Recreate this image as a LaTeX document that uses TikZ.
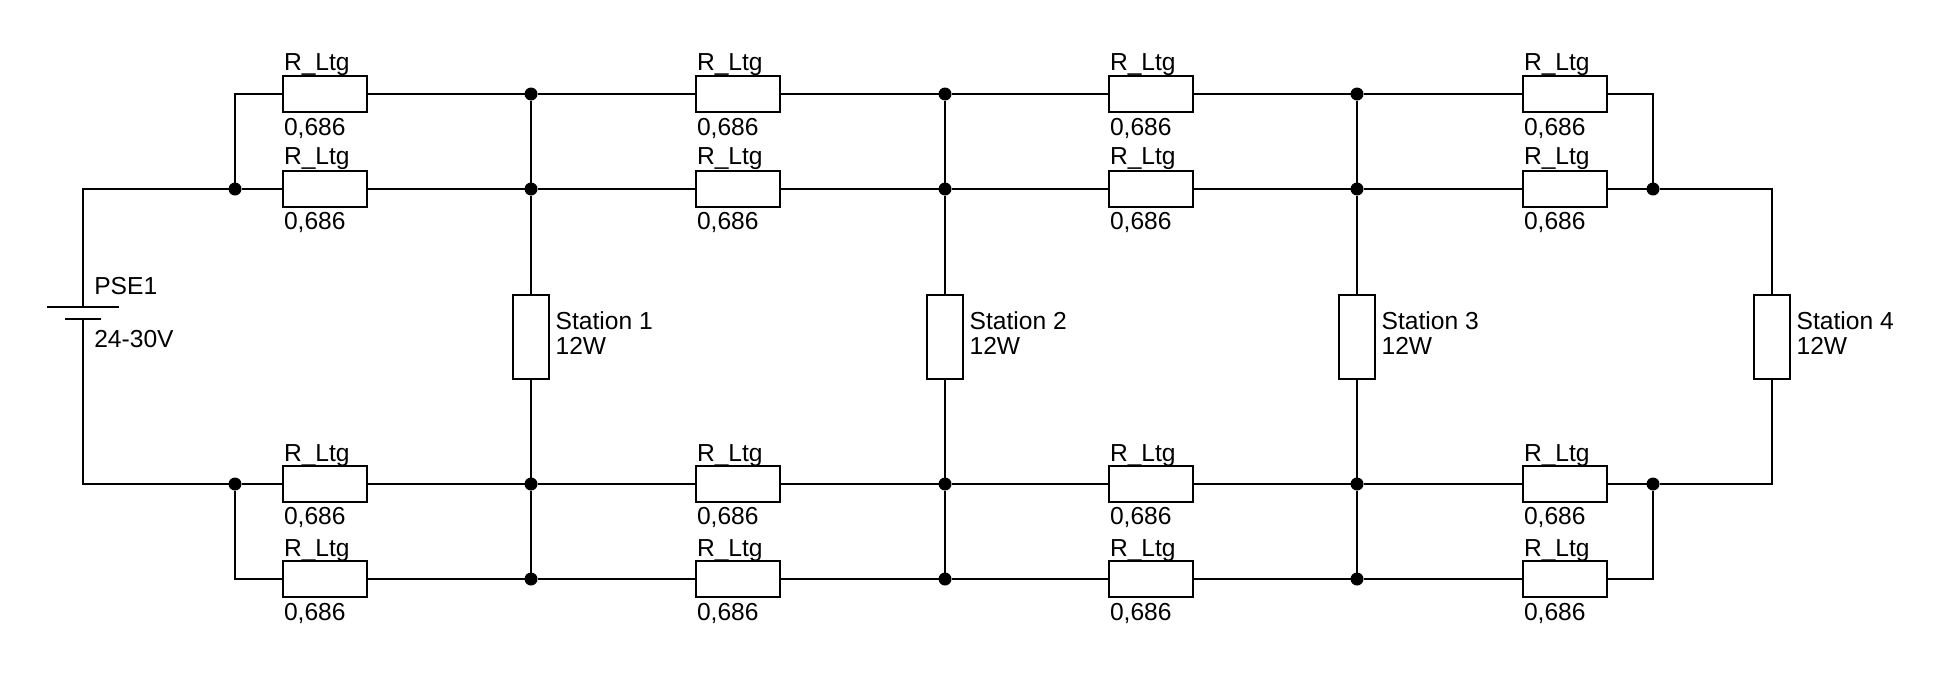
\documentclass[tikz,border=0pt]{standalone}
\usepackage{fontspec}
\setmainfont{Liberation Sans}
\begin{document}
\begin{tikzpicture}[x=1pt,y=-1pt,line width=2pt,
  res/.style={draw,rectangle,inner sep=0pt,outer sep=0pt,minimum width=84pt,minimum height=36pt},
  stn/.style={draw,rectangle,inner sep=0pt,outer sep=0pt,minimum width=36pt,minimum height=84pt},
  jun/.style={circle,fill=black,inner sep=0pt,outer sep=0pt,minimum size=13pt},
  plate/.style={rectangle,fill=black,inner sep=0pt,outer sep=0pt,minimum height=2pt,minimum width=#1},
  txt/.style={inner sep=0pt,outer sep=0pt,anchor=base west,font=\fontsize{24.6}{24.6}\selectfont}]
\useasboundingbox (0,0) rectangle (1942,672);
\fill[white] (0,0) rectangle (1942,672);
% resistors and labels
\foreach \c/\x in {1/325,2/738,3/1151,4/1565}{
  \foreach \r/\y/\ya/\yb in {1/94/70.8/135.3,2/189/164.8/229.3,3/484/461/524.6,4/579/556/620}{
    \node[res] (r\c\r) at (\x,\y) {};
    \node[txt] (lt\c\r) at (\x-41,\ya) {R\_Ltg};
    \node[txt] (lv\c\r) at (\x-41,\yb) {0,686};
  }
}
% stations
\foreach \c/\x in {1/531,2/945,3/1357,4/1772}{
  \node[stn] (s\c) at (\x,337) {};
  \node[txt] (sn\c) at (\x+24.6,329.7) {Station \c};
  \node[txt] (sp\c) at (\x+24.6,354) {12W};
  \foreach \r/\y in {1/94,2/189,3/484,4/579}{
    \ifnum\c<4 \node[jun] (j\c\r) at (\x,\y) {};\fi
  }
}
% end junctions
\node[jun] (j02) at (235,189) {};
\node[jun] (j03) at (235,484) {};
\node[jun] (j42) at (1653,189) {};
\node[jun] (j43) at (1653,484) {};
\coordinate (c01) at (235,94);
\coordinate (c04) at (235,579);
\coordinate (c41) at (1653,94);
\coordinate (c44) at (1653,579);
% battery
\node[plate=72pt] (bp) at (83,307) {};
\node[plate=36pt] (bn) at (83,319) {};
\node[txt] (pse) at (94.3,294.5) {PSE1};
\node[txt] (psv) at (94.3,347.3) {24-30V};
% wires
\draw (j02) -| (bp.center);
\draw (j03) -| (bn.center);
\draw (j02) -- (r12.west);
\draw (j03) -- (r13.west);
\draw (j02) -- (c01) -- (r11.west);
\draw (j03) -- (c04) -- (r14.west);
\foreach \r in {1,2,3,4}{
  \draw (r1\r.east) -- (j1\r) -- (r2\r.west);
  \draw (r2\r.east) -- (j2\r) -- (r3\r.west);
  \draw (r3\r.east) -- (j3\r) -- (r4\r.west);
}
\draw (r41.east) -- (c41) -- (j42);
\draw (r44.east) -- (c44) -- (j43);
\draw (r42.east) -- (j42);
\draw (r43.east) -- (j43);
\draw (j42) -| (s4.north);
\draw (j43) -| (s4.south);
\foreach \c in {1,2,3}{
  \draw (j\c1) -- (j\c2) -- (s\c.north);
  \draw (s\c.south) -- (j\c3) -- (j\c4);
}
\end{tikzpicture}
\end{document}
